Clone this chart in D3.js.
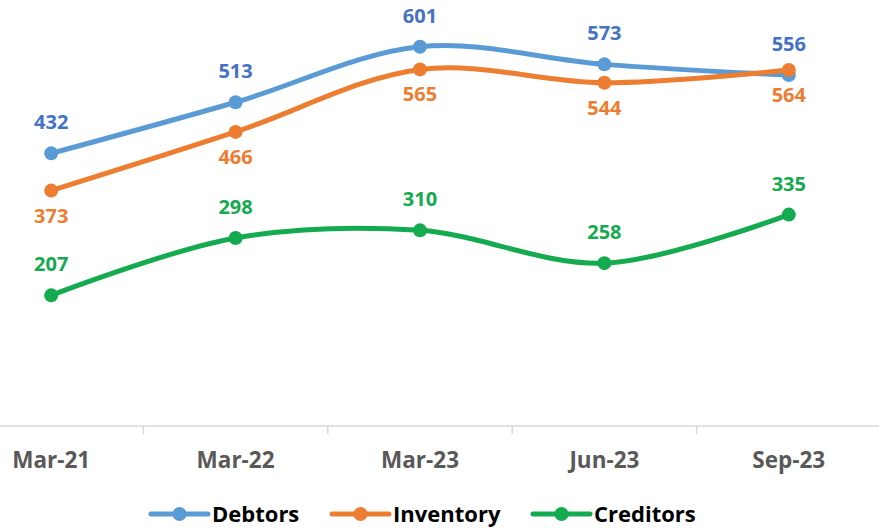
<!DOCTYPE html>
<html>
<head>
<meta charset="utf-8">
<script src="https://cdn.jsdelivr.net/npm/d3@7"></script>
<style>
  body { margin: 0; background: #fff; }
  text { font-family: "Open Sans", "Noto Sans", sans-serif; font-weight: bold; }
</style>
</head>
<body>
<div id="main"></div>
<script>
var categories = ["Mar-21", "Mar-22", "Mar-23", "Jun-23", "Sep-23"];
var debtors = [432, 513, 601, 573, 556];
var inventory = [373, 466, 565, 544, 564];
var creditors = [207, 298, 310, 258, 335];

var seriesNames = ["Debtors", "Inventory", "Creditors"];
var lineColors = ["#5b9bd5", "#ed7d31", "#14aa4f"];
var labelColors = ["#4472c4", "#ed7d31", "#14aa4f"];
var labelSide = [[-1, -1, -1, -1, -1], [1, 1, 1, 1, 1], [-1, -1, -1, -1, -1]];

var width = 879, height = 528;

var svg = d3.select("#main")
  .append("svg")
    .attr("width", width)
    .attr("height", height);

// band scale - plot area partly cropped on the left
var x = d3.scaleBand()
  .domain(categories)
  .range([-41, 881]);

var y = d3.scaleLinear()
  .domain([0, 675])
  .range([426, 0]);

// axis line + ticks between categories
var axis = svg.append("g");
axis.append("line")
  .attr("x1", 0).attr("x2", width)
  .attr("y1", 426).attr("y2", 426)
  .attr("stroke", "#d9d9d9").attr("stroke-width", 1.5);

axis.selectAll(".tick")
  .data(categories.slice(1))
  .enter().append("line")
  .attr("x1", function(d) { return x(d); })
  .attr("x2", function(d) { return x(d); })
  .attr("y1", 426).attr("y2", 434)
  .attr("stroke", "#d9d9d9").attr("stroke-width", 1.5);

axis.selectAll(".xlab")
  .data(categories)
  .enter().append("text")
  .attr("x", function(d) { return x(d) + x.bandwidth() / 2; })
  .attr("y", 468)
  .attr("text-anchor", "middle")
  .attr("fill", "#595959")
  .attr("font-size", 22.5)
  .text(function(d) { return d; });

var allSeries = [debtors, inventory, creditors];

var line = d3.line()
  .x(function(d, i) { return x(categories[i]) + x.bandwidth() / 2; })
  .y(function(d) { return y(d); })
  .curve(d3.curveCatmullRom.alpha(0.5));

allSeries.forEach(function(vals, s) {
  var g = svg.append("g");
  g.append("path")
    .datum(vals)
    .attr("d", line)
    .attr("fill", "none")
    .attr("stroke", lineColors[s])
    .attr("stroke-width", 5)
    .attr("stroke-linecap", "round");

  g.selectAll("circle")
    .data(vals)
    .enter().append("circle")
    .attr("cx", function(d, i) { return x(categories[i]) + x.bandwidth() / 2; })
    .attr("cy", function(d) { return y(d); })
    .attr("r", 7)
    .attr("fill", lineColors[s]);

  g.selectAll("text")
    .data(vals)
    .enter().append("text")
    .attr("x", function(d, i) { return x(categories[i]) + x.bandwidth() / 2; })
    .attr("y", function(d, i) {
      return labelSide[s][i] < 0 ? y(d) - 24 : y(d) + 32;
    })
    .attr("text-anchor", "middle")
    .attr("fill", labelColors[s])
    .attr("font-size", 20)
    .text(function(d) { return d; });
});

// legend
var legendX = [151, 332, 533];
var legend = svg.append("g");
seriesNames.forEach(function(name, s) {
  var lg = legend.append("g").attr("transform", "translate(" + legendX[s] + ",514)");
  lg.append("line")
    .attr("x1", 0).attr("x2", 57)
    .attr("y1", 0).attr("y2", 0)
    .attr("stroke", lineColors[s])
    .attr("stroke-width", 5)
    .attr("stroke-linecap", "round");
  lg.append("circle")
    .attr("cx", 28.5).attr("cy", 0).attr("r", 7)
    .attr("fill", lineColors[s]);
  lg.append("text")
    .attr("x", 61).attr("y", 8)
    .attr("fill", "#000")
    .attr("font-size", 22)
    .text(name);
});
</script>
</body>
</html>
